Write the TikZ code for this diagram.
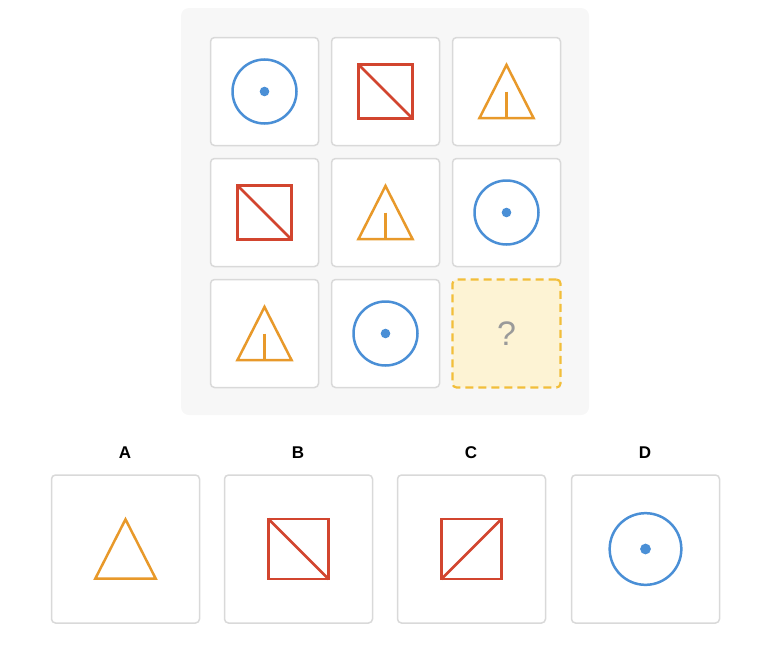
\documentclass[tikz,border=0pt]{standalone}
\usepackage{fontspec}
\setmainfont{Liberation Sans}
\usetikzlibrary{positioning}

\definecolor{panelgray}{HTML}{F7F7F7}
\definecolor{cellline}{HTML}{D9D9D9}
\definecolor{shapeblue}{HTML}{4A8FD6}
\definecolor{shapered}{HTML}{D2452F}
\definecolor{shapeorange}{HTML}{E8992A}
\definecolor{askfill}{HTML}{FDF3D4}
\definecolor{askline}{HTML}{F2BE3A}
\definecolor{askgray}{HTML}{9A9A9A}

\begin{document}
\begin{tikzpicture}[x=1pt,y=-1pt]

\tikzset{cell/.style = {shape=rectangle,draw=cellline,line width=1.5pt,fill=white,rounded corners=4pt,minimum size=108pt,inner sep=0pt}}
\tikzset{option/.style = {cell,minimum size=148pt}}
\tikzset{asked/.style = {cell,draw=askline,fill=askfill,line width=2.2pt,dash pattern=on 8pt off 5pt}}
\tikzset{letter/.style = {font=\bfseries\fontsize{17}{19}\selectfont}}
\tikzset{circdot/.pic = {\draw[shapeblue,line width=2.5pt] (0,0) circle (32);
  \fill[shapeblue] (0,0) circle (4.8);}}
\tikzset{squarediag/.pic = {\draw[shapered,line width=2.5pt] (-27,-27) rectangle (27,27);
  \draw[shapered,line width=2.5pt] (-27,-27) -- (27,27);}}
\tikzset{squareanti/.pic = {\draw[shapered,line width=2.5pt] (-27,-27) rectangle (27,27);
  \draw[shapered,line width=2.5pt] (-27,27) -- (27,-27);}}
\tikzset{trianglebar/.pic = {\draw[shapeorange,line width=2.5pt,line join=miter] (0,-26.5) -- (-27,26.5) -- (27,26.5) -- cycle;
  \draw[shapeorange,line width=2.5pt] (0,0) -- (0,26.5);}}
\tikzset{triangleplain/.pic = {\draw[shapeorange,line width=2.5pt,line join=miter] (0,-26.5) -- (-27,26.5) -- (27,26.5) -- cycle;}}

\useasboundingbox (0,0) rectangle (768,645);

% panel
\fill[panelgray,rounded corners=8pt] (181,8) rectangle (589,415);

% grid
\node[cell] (c11) at (264.5,91.5) {};
\node[cell] (c12) at (385.5,91.5) {};
\node[cell] (c13) at (506.5,91.5) {};
\node[cell] (c21) at (264.5,212.5) {};
\node[cell] (c22) at (385.5,212.5) {};
\node[cell] (c23) at (506.5,212.5) {};
\node[cell] (c31) at (264.5,333.5) {};
\node[cell] (c32) at (385.5,333.5) {};
\node[asked] (c33) at (506.5,333.5) {\textcolor{askgray}{\fontsize{34}{36}\selectfont ?}};

\pic at (c11) {circdot};
\pic at (c12) {squarediag};
\pic at (c13) {trianglebar};
\pic at (c21) {squarediag};
\pic at (c22) {trianglebar};
\pic at (c23) {circdot};
\pic at (c31) {trianglebar};
\pic at (c32) {circdot};

% options
\node[option] (oa) at (125.5,549) {};
\node[option] (ob) at (298.5,549) {};
\node[option] (oc) at (471.5,549) {};
\node[option] (od) at (645.5,549) {};
\node[letter] (la) at (125,453) {A};
\node[letter] (lb) at (298,453) {B};
\node[letter] (lc) at (471,453) {C};
\node[letter] (ld) at (645,453) {D};

\pic[scale=1.12] at (oa) {triangleplain};
\pic[scale=1.12] at (ob) {squarediag};
\pic[scale=1.12] at (oc) {squareanti};
\pic[scale=1.12] at (od) {circdot};

\end{tikzpicture}
\end{document}
